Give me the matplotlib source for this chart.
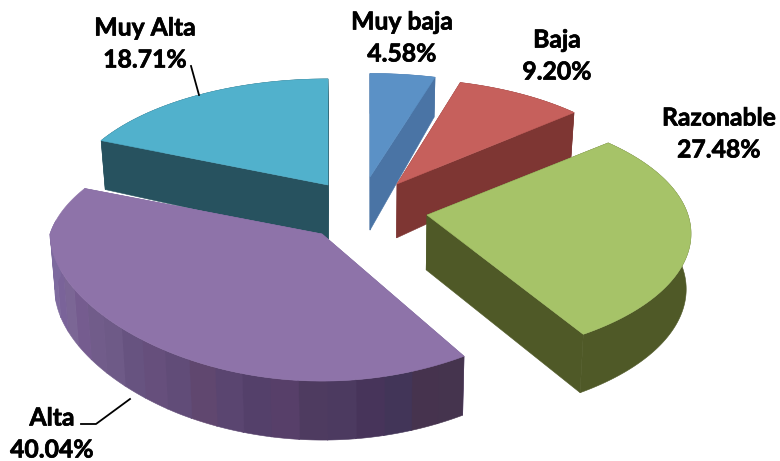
import numpy as np
import matplotlib
matplotlib.use("Agg")
import matplotlib.pyplot as plt
import matplotlib.patheffects as pe
from matplotlib.patches import Polygon

categories = ["Muy baja", "Baja", "Razonable", "Alta", "Muy Alta"]
values = [4.58, 9.20, 27.48, 40.04, 18.71]
value_labels = ["4.58%", "9.20%", "27.48%", "40.04%", "18.71%"]

top_colors = ["#5b91c6", "#c6605c", "#a6c368", "#8e73a9", "#51b1cc"]
side_colors = ["#4a74a5", "#7e3633", "#4f5927", "#7d6a9e", "#27525f"]
alta_bands = ["#45344e", "#46334e", "#423558", "#47345a", "#4c3a60", "#4e3b60", "#573f69",
              "#54406a", "#5a4570", "#60476f", "#614c78", "#664f7c", "#675380", "#6e5a87",
              "#715c8a", "#755c8f", "#7b6695", "#7a6399", "#7f6b9e", "#7d6a9e", "#7d6a9e"]

# layout of the exploded slices, in figure pixels
apex = [(370, 177), (397, 184), (427, 215), (322, 234), (328, 185)]
radius_x = [262, 255, 261, 272, 260]
radius_y = [119, 121, 122, 125, 122]
front_spread = [1, 1, 1, 0, 1]
persp = 0.15
draw_order = [4, 0, 1, 2, 3]
label_pos = [(402, 22), (557, 40), (719, 118), (52, 418), (145, 28)]
line_gap = 32

fig = plt.figure(figsize=(7.8, 4.61), dpi=100)
ax = fig.add_axes([0, 0, 1, 1])
ax.set_xlim(0, 780)
ax.set_ylim(461, 0)
ax.axis("off")


def rim(i, theta_deg):
    t = np.radians(np.asarray(theta_deg, dtype=float))
    u, v = np.sin(t), np.cos(t)
    d = 1 + persp * v
    dx = np.where(v < 0, 1 + persp * v * front_spread[i], d)
    return np.column_stack([apex[i][0] + radius_x[i] * u / dx,
                            apex[i][1] - radius_y[i] * v / d])


def lower(pts):
    pts = np.atleast_2d(pts)
    thick = np.interp(pts[:, 1], [78, 141, 185, 355], [40, 49, 54, 59])
    return np.column_stack([372 + (pts[:, 0] - 372) * 0.985, pts[:, 1] + thick])


def face(pts, color, z):
    ax.add_patch(Polygon(pts, closed=True, facecolor=color, edgecolor=color,
                         linewidth=0.4, zorder=z))


edges = np.concatenate([[0], np.cumsum(values) / np.sum(values) * 360])

for z, i in enumerate(draw_order):
    a0, a1 = edges[i], edges[i + 1]
    arc = np.linspace(a0, a1, 160)
    top = rim(i, arc)
    corner = np.array([apex[i]], dtype=float)
    base = 10 * z
    # radial side walls
    for tip in (top[0], top[-1]):
        quad = np.vstack([corner, [tip], lower(tip), lower(corner)])
        face(quad, side_colors[i], base + 1)
    # outer wall
    if categories[i] == "Alta":
        steps = np.linspace(a0, 276, len(alta_bands) + 1)
        for k, color in enumerate(alta_bands):
            seg = rim(i, np.linspace(steps[k], steps[k + 1] + 0.2, 12))
            face(np.vstack([seg, lower(seg)[::-1]]), color, base + 2)
    else:
        face(np.vstack([top, lower(top)[::-1]]), side_colors[i], base + 2)
    # top surface
    face(np.vstack([corner, top]), top_colors[i], base + 3)

for (x, y), name, val in zip(label_pos, categories, value_labels):
    for yy, s in ((y, name), (y + line_gap, val)):
        ax.text(x, yy, s, ha="center", va="center", family="Lato",
                fontweight="bold", fontsize=17.8, color="black", zorder=100,
                path_effects=[pe.withStroke(linewidth=0.5, foreground="black")])

ax.plot([191, 199], [66, 95], color="black", lw=1.3, zorder=99)
ax.plot([81, 96, 130], [424, 424, 399], color="black", lw=1.3, zorder=99)

fig.savefig("out.png", dpi=100)
